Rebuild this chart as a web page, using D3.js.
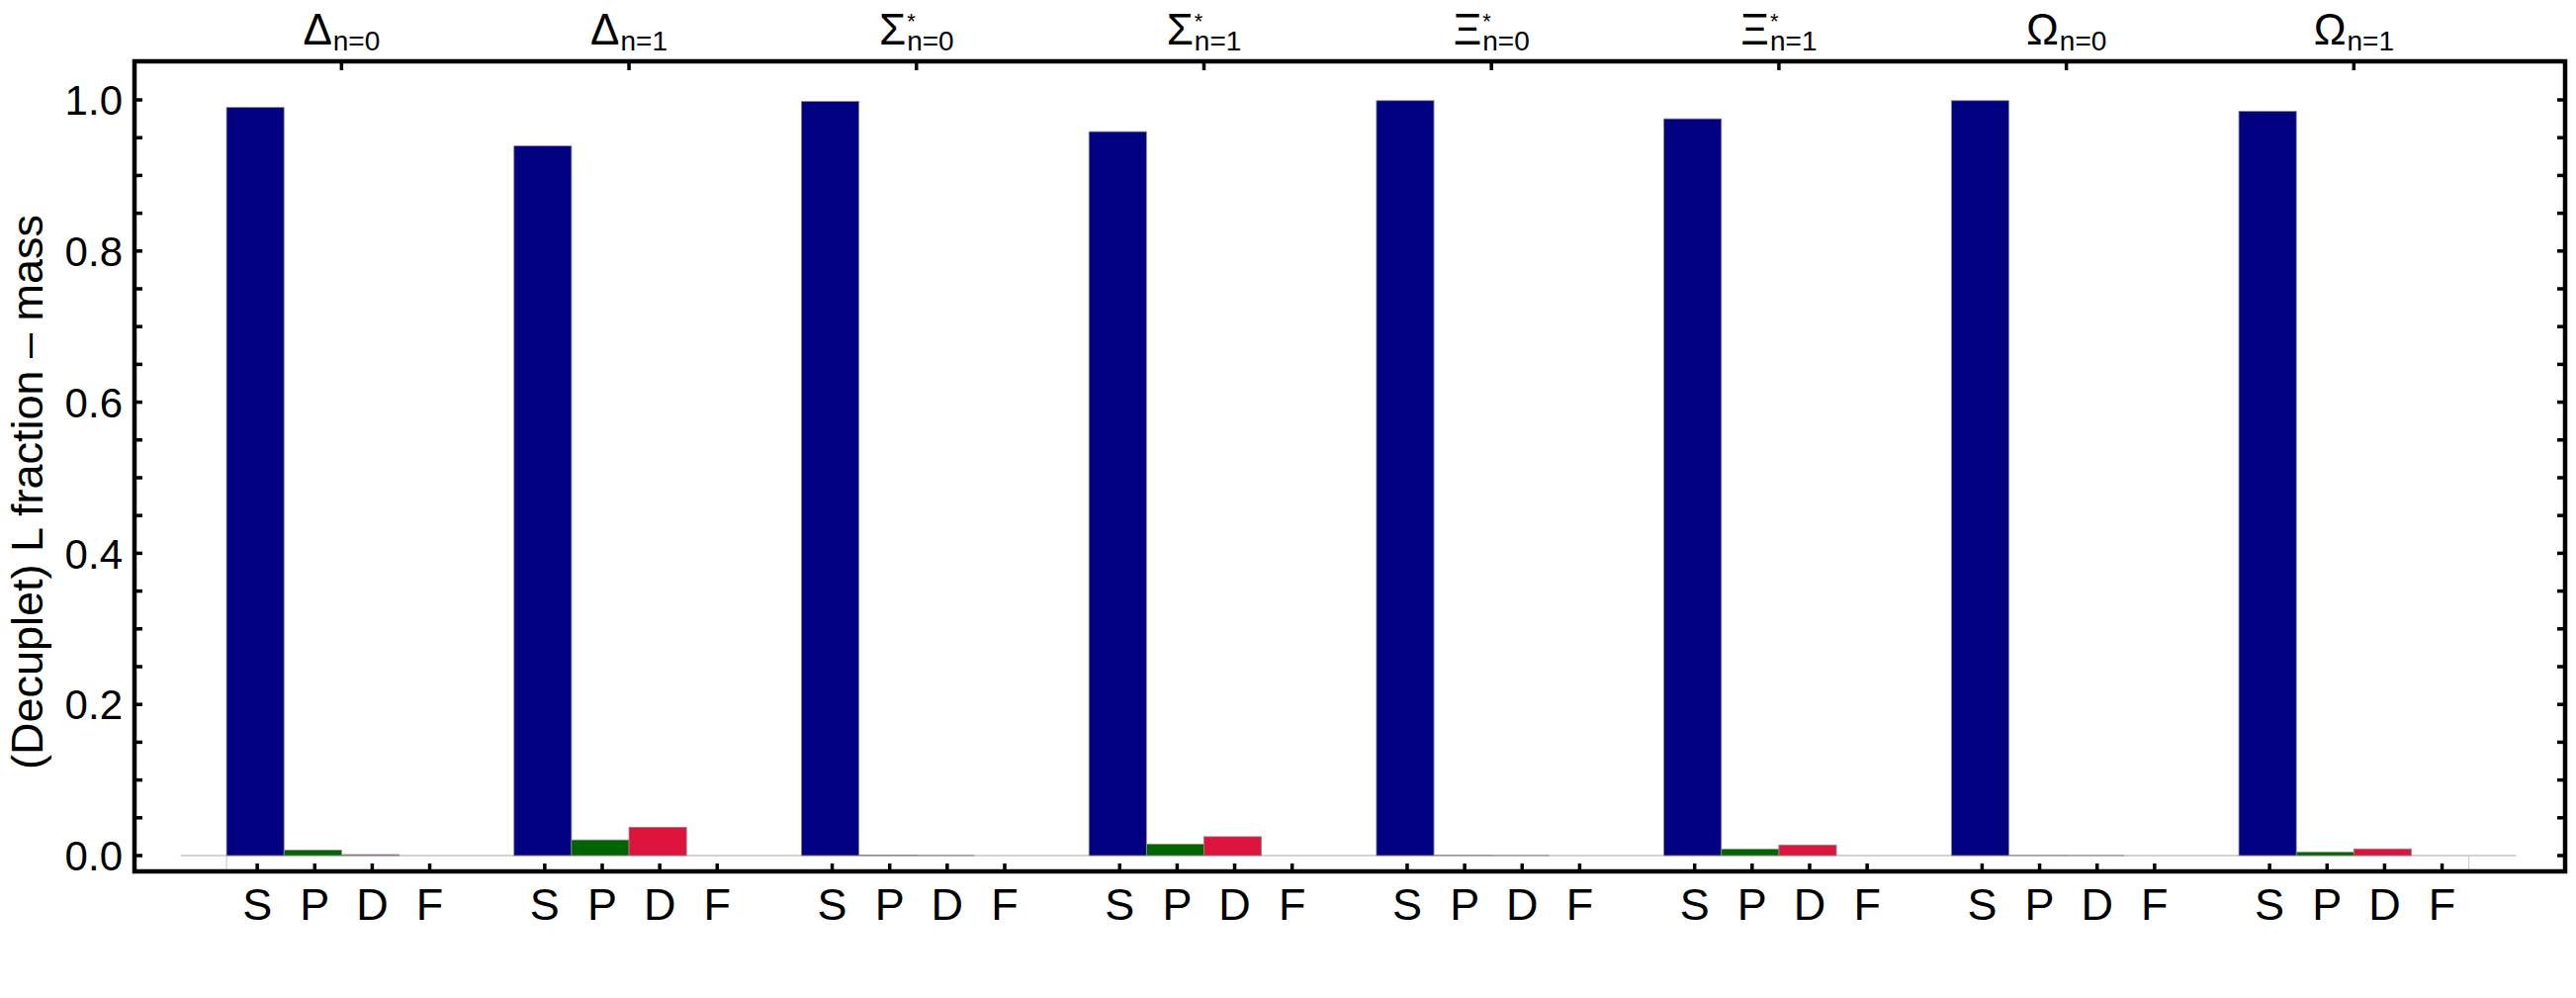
<!DOCTYPE html>
<html>
<head>
<meta charset="utf-8">
<script src="https://cdn.jsdelivr.net/npm/d3@7"></script>
<style>
  body { margin: 0; background: #fff; }
  svg text { font-family: "Liberation Sans", Arial, sans-serif; fill: #000; }
</style>
</head>
<body>
<svg id="chart"></svg>
<script>
// L-wave fractions of the decuplet mass, one entry per state.
const baryons  = ["Δ", "Δ", "Σ", "Σ", "Ξ", "Ξ", "Ω", "Ω"];
const starred  = [false, false, true, true, true, true, false, false];
const levels   = ["n=0", "n=1", "n=0", "n=1", "n=0", "n=1", "n=0", "n=1"];
const waves    = ["S", "P", "D", "F"];
const sWave    = [0.990, 0.939, 0.998, 0.958, 0.999, 0.975, 0.999, 0.985];
const pWave    = [0.0072, 0.0207, 0.0006, 0.0150, 0.0003, 0.0085, 0.0002, 0.0044];
const dWave    = [0.0013, 0.0375, 0.0002, 0.0250, 0.0001, 0.0140, 0.0001, 0.0088];
const fWave    = [0, 0, 0, 0, 0, 0, 0, 0];
const yTicks   = [0, 0.2, 0.4, 0.6, 0.8, 1.0];
const yLabel   = "(Decuplet) L  fraction – mass";

const WIDTH = 2605, HEIGHT = 1009;
const FRAME = { left: 136, right: 2594, top: 62, bottom: 881 };
const COLORS = { S: "#000080", P: "#006400", D: "#DC143C", F: "#7f7f7f" };
const FONT_TICK = 42, FONT_WAVE = 45, FONT_MAIN = 44, FONT_SUB = 28, FONT_STAR = 22;

const svg = d3.select("#chart").attr("width", WIDTH).attr("height", HEIGHT);

const states = baryons.map((b, i) => ({
  id: String(i),
  baryon: b,
  star: starred[i],
  level: levels[i],
  values: { S: sWave[i], P: pWave[i], D: dWave[i], F: fWave[i] },
}));

// Groups: 4 bars then a one-bar gap.
const x0 = d3.scaleBand()
  .domain(states.map(d => d.id))
  .range([200, 2525.7])
  .paddingInner(0.2)
  .paddingOuter(0.1);

const x1 = d3.scaleBand()
  .domain(waves)
  .range([0, x0.bandwidth()]);

const y = d3.scaleLinear().domain([0, 1]).range([865, 101]);

// Axis line at y = 0 (faint grey, a little wider than the bars).
svg.append("line")
  .attr("x1", x0.range()[0] - 17).attr("x2", x0.range()[1] + 19)
  .attr("y1", y(0)).attr("y2", y(0))
  .attr("stroke", "#a8a8a8").attr("stroke-width", 1.2);

const first = x0(states[0].id), last = x0(states[states.length - 1].id) + x0.bandwidth();
[first, last].forEach(xv => {
  svg.append("line")
    .attr("x1", xv).attr("x2", xv)
    .attr("y1", y(0)).attr("y2", FRAME.bottom)
    .attr("stroke", "#cfcfcf").attr("stroke-width", 1.2);
});

// Bars.
const groups = svg.selectAll("g.state")
  .data(states)
  .join("g")
  .attr("class", "state")
  .attr("transform", d => `translate(${x0(d.id)},0)`);

groups.selectAll("rect")
  .data(d => waves.map(w => ({ w, v: d.values[w] })))
  .join("rect")
  .attr("x", d => x1(d.w))
  .attr("y", d => y(d.v))
  .attr("width", x1.bandwidth())
  .attr("height", d => y(0) - y(d.v))
  .attr("fill", d => COLORS[d.w])
  .attr("stroke", "#8a8a8a")
  .attr("stroke-width", 0.8);

// Frame.
svg.append("rect")
  .attr("x", FRAME.left).attr("y", FRAME.top)
  .attr("width", FRAME.right - FRAME.left)
  .attr("height", FRAME.bottom - FRAME.top)
  .attr("fill", "none")
  .attr("stroke", "#000")
  .attr("stroke-width", 4.5);

// Left / right ticks: every 0.05, labels on the left only.
const minor = d3.range(0, 1.0001 + 0.05, 0.05).filter(v => y(v) > FRAME.top + 4);
minor.forEach(v => {
  svg.append("line")
    .attr("x1", FRAME.left).attr("x2", FRAME.left + 8)
    .attr("y1", y(v)).attr("y2", y(v))
    .attr("stroke", "#000").attr("stroke-width", 3.5);
  svg.append("line")
    .attr("x1", FRAME.right).attr("x2", FRAME.right - 8)
    .attr("y1", y(v)).attr("y2", y(v))
    .attr("stroke", "#000").attr("stroke-width", 3.5);
});

svg.selectAll("text.ytick")
  .data(yTicks)
  .join("text")
  .attr("class", "ytick")
  .attr("x", 124)
  .attr("y", d => y(d))
  .attr("dy", "0.36em")
  .attr("text-anchor", "end")
  .attr("font-size", FONT_TICK)
  .text(d3.format(".1f"));

// Bottom ticks and S/P/D/F labels.
states.forEach(s => {
  waves.forEach(w => {
    const cx = x0(s.id) + x1(w) + x1.bandwidth() / 2 + 2;
    svg.append("line")
      .attr("x1", cx).attr("x2", cx)
      .attr("y1", FRAME.bottom).attr("y2", FRAME.bottom - 8)
      .attr("stroke", "#000").attr("stroke-width", 3.5);
    svg.append("text")
      .attr("x", cx).attr("y", 930)
      .attr("text-anchor", "middle")
      .attr("font-size", FONT_WAVE)
      .text(w);
  });
});

// Top ticks and state labels: one text per state, star above the subscript.
states.forEach(s => {
  const cx = x0(s.id) + x0.bandwidth() / 2;
  svg.append("line")
    .attr("x1", cx).attr("x2", cx)
    .attr("y1", FRAME.top).attr("y2", FRAME.top + 9)
    .attr("stroke", "#000").attr("stroke-width", 3.5);

  const lab = svg.append("text")
    .attr("x", 0).attr("y", 45)
    .attr("font-size", FONT_MAIN);
  lab.append("tspan").text(s.baryon);
  let back = 0;
  if (s.star) {
    const st = lab.append("tspan")
      .attr("dx", 1).attr("dy", -16)
      .attr("font-size", FONT_STAR)
      .text("*");
    back = st.node().getComputedTextLength();
  }
  lab.append("tspan")
    .attr("dx", s.star ? -back : 1)
    .attr("dy", s.star ? 22 : 6)
    .attr("font-size", FONT_SUB)
    .text(s.level);
  const bb = lab.node().getBBox();
  lab.attr("x", cx - bb.width / 2);
});

// Y axis title.
svg.append("text")
  .attr("transform", `translate(43,${(FRAME.top + FRAME.bottom) / 2 + 26}) rotate(-90)`)
  .attr("text-anchor", "middle")
  .attr("font-size", 45)
  .text(yLabel);
</script>
</body>
</html>
